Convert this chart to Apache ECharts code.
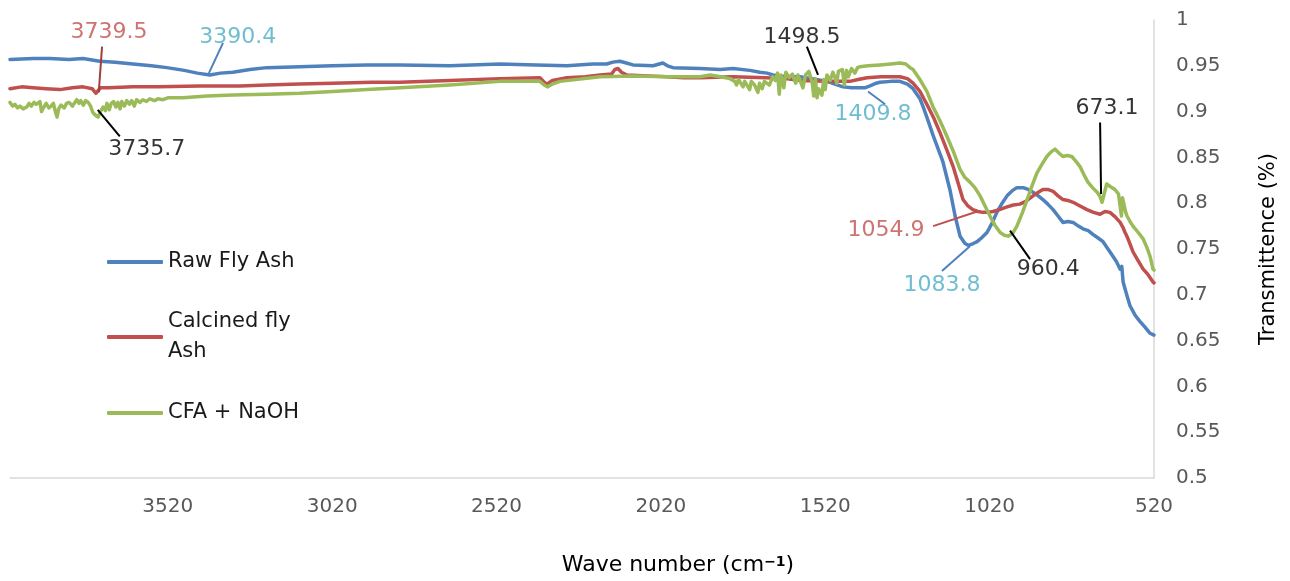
<!DOCTYPE html>
<html>
<head>
<meta charset="utf-8">
<script src="https://cdn.jsdelivr.net/npm/echarts@6/dist/echarts.min.js"></script>
<style>
  html, body { margin: 0; padding: 0; background: #fff; }
  #chart { width: 1290px; height: 581px; }
</style>
</head>
<body>
<div id="chart"></div>
<script>
// ---------- DATA ----------
const seriesNames = ['Raw Fly Ash', 'Calcined fly Ash', 'CFA + NaOH'];
const seriesColors = ['#4F81BD', '#C0504D', '#9BBB59'];

// Wave number (cm-1), transmittance
const rawFlyAsh = [
  [4000,0.957],[3930,0.958],[3879,0.958],[3820,0.957],[3778,0.958],[3727,0.955],[3680,0.954],
  [3626,0.952],[3570,0.950],[3523,0.948],[3470,0.945],[3430,0.942],[3392,0.940],[3360,0.942],
  [3322,0.943],[3270,0.946],[3219,0.948],[3118,0.949],[3020,0.950],[2914,0.951],[2814,0.951],
  [2662,0.950],[2510,0.952],[2400,0.951],[2306,0.950],[2227,0.952],[2185,0.952],[2166,0.954],
  [2145,0.955],[2125,0.953],[2105,0.951],[2044,0.950],[2025,0.952],[2014,0.953],[2000,0.950],
  [1983,0.948],[1901,0.947],[1840,0.946],[1801,0.947],[1749,0.945],[1719,0.943],[1697,0.942],
  [1679,0.940],[1637,0.938],[1597,0.938],[1560,0.936],[1515,0.933],[1466,0.927],[1440,0.926],
  [1414,0.926],[1400,0.926],[1384,0.928],[1365,0.931],[1354,0.932],[1320,0.933],[1293,0.933],
  [1270,0.930],[1253,0.925],[1232,0.914],[1223,0.906],[1211,0.894],[1192,0.874],[1162,0.845],
  [1141,0.815],[1125,0.786],[1110,0.764],[1095,0.756],[1084,0.754],[1070,0.756],[1058,0.758],
  [1045,0.762],[1028,0.768],[1013,0.778],[998,0.790],[982,0.800],[967,0.808],[950,0.814],
  [937,0.817],[918,0.817],[903,0.815],[888,0.812],[872,0.808],[858,0.804],[843,0.799],
  [827,0.793],[812,0.786],[797,0.779],[782,0.780],[766,0.779],[750,0.775],[736,0.772],
  [720,0.770],[706,0.766],[690,0.762],[675,0.758],[660,0.750],[645,0.742],[634,0.736],
  [623,0.728],[618,0.731],[614,0.714],[603,0.700],[593,0.688],[578,0.678],[563,0.671],
  [548,0.665],[532,0.658],[520,0.656]
];
const calcinedFlyAsh = [
  [4000,0.925],[3965,0.927],[3930,0.926],[3890,0.925],[3848,0.924],[3810,0.926],[3778,0.927],
  [3750,0.925],[3739,0.920],[3725,0.926],[3700,0.926],[3626,0.927],[3550,0.927],[3422,0.928],
  [3300,0.928],[3219,0.929],[3118,0.930],[3018,0.931],[2900,0.932],[2814,0.932],[2662,0.934],
  [2510,0.936],[2388,0.937],[2375,0.932],[2367,0.930],[2350,0.934],[2306,0.937],[2250,0.938],
  [2205,0.940],[2170,0.941],[2160,0.946],[2150,0.947],[2140,0.943],[2123,0.940],[2060,0.939],
  [2002,0.938],[1950,0.937],[1901,0.937],[1801,0.938],[1700,0.937],[1640,0.936],[1597,0.934],
  [1520,0.933],[1445,0.933],[1420,0.935],[1393,0.937],[1350,0.938],[1293,0.938],[1270,0.936],
  [1253,0.931],[1232,0.922],[1211,0.908],[1190,0.893],[1171,0.877],[1150,0.858],[1131,0.840],
  [1115,0.821],[1101,0.804],[1086,0.797],[1071,0.793],[1056,0.791],[1040,0.790],[1025,0.790],
  [1010,0.791],[990,0.793],[967,0.796],[948,0.798],[928,0.799],[910,0.802],[888,0.808],
  [872,0.812],[858,0.815],[843,0.815],[827,0.813],[812,0.808],[797,0.804],[782,0.803],
  [766,0.801],[745,0.797],[724,0.793],[704,0.790],[684,0.788],[669,0.791],[654,0.790],
  [638,0.785],[623,0.779],[615,0.774],[608,0.768],[600,0.762],[584,0.747],[568,0.737],
  [553,0.728],[538,0.722],[523,0.714],[520,0.713]
];
const cfaNaOH = [
  [4000,0.910],[3992,0.906],[3985,0.908],[3977,0.904],[3970,0.906],[3960,0.903],[3949,0.905],
  [3942,0.909],[3935,0.906],[3927,0.910],[3920,0.908],[3909,0.911],[3904,0.900],[3900,0.903],
  [3890,0.909],[3882,0.904],[3875,0.906],[3868,0.909],[3862,0.900],[3857,0.894],[3852,0.903],
  [3845,0.907],[3835,0.904],[3828,0.909],[3820,0.910],[3810,0.906],[3797,0.913],[3790,0.909],
  [3785,0.912],[3777,0.907],[3770,0.912],[3762,0.910],[3755,0.906],[3748,0.899],[3740,0.896],
  [3732,0.894],[3725,0.900],[3717,0.905],[3710,0.901],[3705,0.909],[3698,0.902],[3692,0.909],
  [3685,0.911],[3678,0.905],[3672,0.910],[3665,0.903],[3660,0.911],[3652,0.906],[3645,0.912],
  [3637,0.908],[3630,0.912],[3622,0.906],[3615,0.913],[3605,0.910],[3596,0.913],[3585,0.911],
  [3575,0.914],[3560,0.912],[3550,0.914],[3535,0.913],[3520,0.915],[3474,0.915],[3400,0.917],
  [3322,0.918],[3220,0.919],[3118,0.920],[3018,0.922],[2914,0.924],[2814,0.926],[2662,0.929],
  [2510,0.933],[2388,0.933],[2375,0.929],[2364,0.927],[2350,0.930],[2327,0.933],[2205,0.938],
  [2105,0.939],[2002,0.938],[1901,0.938],[1870,0.940],[1840,0.938],[1810,0.936],[1795,0.933],
  [1790,0.929],[1784,0.935],[1779,0.935],[1770,0.927],[1765,0.933],[1760,0.932],[1750,0.924],
  [1745,0.933],[1735,0.929],[1725,0.921],[1720,0.931],[1712,0.925],[1705,0.933],[1700,0.934],
  [1690,0.929],[1680,0.938],[1672,0.934],[1665,0.942],[1660,0.919],[1655,0.940],[1646,0.926],
  [1640,0.943],[1630,0.937],[1620,0.941],[1610,0.931],[1603,0.940],[1597,0.942],[1588,0.926],
  [1580,0.940],[1570,0.944],[1560,0.932],[1555,0.917],[1550,0.936],[1545,0.915],[1540,0.925],
  [1530,0.918],[1525,0.935],[1520,0.924],[1515,0.940],[1505,0.934],[1497,0.943],[1490,0.937],
  [1485,0.931],[1480,0.944],[1468,0.946],[1462,0.929],[1455,0.945],[1450,0.938],[1440,0.947],
  [1430,0.942],[1422,0.948],[1414,0.949],[1390,0.950],[1354,0.951],[1320,0.952],[1293,0.953],
  [1275,0.952],[1262,0.948],[1253,0.946],[1232,0.935],[1211,0.922],[1192,0.905],[1171,0.890],
  [1150,0.873],[1131,0.857],[1110,0.837],[1095,0.828],[1080,0.823],[1065,0.817],[1049,0.808],
  [1034,0.797],[1019,0.786],[1004,0.776],[988,0.768],[975,0.765],[964,0.764],[950,0.767],
  [937,0.775],[920,0.790],[906,0.804],[890,0.820],[876,0.833],[860,0.843],[846,0.851],
  [833,0.856],[821,0.859],[810,0.855],[797,0.851],[784,0.852],[770,0.851],[758,0.846],
  [745,0.840],[733,0.831],[721,0.823],[707,0.817],[693,0.812],[685,0.808],[678,0.801],
  [672,0.802],[664,0.821],[652,0.818],[639,0.815],[628,0.810],[623,0.808],[619,0.786],
  [616,0.806],[611,0.806],[606,0.790],[602,0.786],[593,0.780],[584,0.775],[568,0.768],
  [553,0.761],[542,0.752],[532,0.742],[523,0.728],[520,0.727]
];

const xTickLabels = [3520, 3020, 2520, 2020, 1520, 1020, 520];

// Peak annotations: text, text position [wave number, value], leader line from/to, colour
const annoTexts  = ['3739.5', '3390.4', '3735.7', '1498.5', '1409.8', '673.1', '1054.9', '1083.8', '960.4'];
const annoTextAt = [[3699,0.987],[3307,0.981],[3584,0.859],[1591,0.981],[1375,0.897],[663,0.904],[1335,0.770],[1165,0.710],[842,0.728]];
const annoFrom   = [[3720,0.971],[3352,0.975],[3733,0.902],[1576,0.971],[1390,0.922],[684,0.888],[1192,0.775],[1165,0.726],[958,0.770]];
const annoTo     = [[3730,0.921],[3395,0.942],[3666,0.873],[1542,0.940],[1338,0.908],[681,0.810],[1058,0.791],[1080,0.753],[897,0.739]];
const annoTextColors = ['#C0504D','#4BACC6','#000000','#000000','#4BACC6','#000000','#C0504D','#4BACC6','#000000'];
const annoLineColors = ['#A0403D','#4F81BD','#000000','#000000','#4F81BD','#000000','#C0504D','#4F81BD','#000000'];

// ---------- CHART ----------
const FONT = 'DejaVu Sans';
const chart = echarts.init(document.getElementById('chart'), null, { renderer: 'canvas' });
const seriesData = [rawFlyAsh, calcinedFlyAsh, cfaNaOH];

const lineSeries = seriesNames.map((n, i) => ({
  name: n,
  type: 'line',
  data: seriesData[i],
  showSymbol: false,
  symbol: 'none',
  smooth: false,
  lineStyle: { color: seriesColors[i], width: 3.5, join: 'round', cap: 'round' },
  itemStyle: { color: seriesColors[i] },
  z: 2 + i
}));

const legendPos = [
  { top: 249, textStyle: { lineHeight: 26 } },
  { top: 292, textStyle: { lineHeight: 30, padding: [30, 0, 0, 0] }, formatter: 'Calcined fly\nAsh' },
  { top: 400, textStyle: { lineHeight: 26 } }
];

const legends = seriesNames.map((n, i) => ({
  data: [n],
  left: 107,
  top: legendPos[i].top,
  padding: 0,
  icon: 'roundRect',
  itemWidth: 56,
  itemHeight: 4,
  formatter: legendPos[i].formatter || '{name}',
  textStyle: Object.assign({ fontFamily: FONT, fontSize: 21, color: '#1a1a1a' }, legendPos[i].textStyle)
}));

const option = {
  animation: false,
  backgroundColor: '#ffffff',
  grid: { left: 10, right: 136, top: 20, bottom: 101, containLabel: false },
  legend: legends,
  xAxis: {
    type: 'value',
    min: 520,
    max: 4000,
    interval: 500,
    inverse: true,
    name: '{a|Wave number (cm}{s|\u22121}{a|)}',
    nameLocation: 'middle',
    nameGap: 76,
    nameTextStyle: {
      padding: [0, 0, 0, 192],
      rich: {
        a: { fontFamily: FONT, fontSize: 22, color: '#000000' },
        s: { fontFamily: FONT, fontSize: 14, fontWeight: 'bold', color: '#000000', verticalAlign: 'top', padding: [1, 0, 0, 0] }
      }
    },
    axisLine: { show: true, lineStyle: { color: '#D9D9D9', width: 1.5 } },
    axisTick: { show: false },
    splitLine: { show: false },
    axisLabel: {
      margin: 19,
      fontFamily: FONT,
      fontSize: 20,
      color: '#595959',
      formatter: v => (xTickLabels.indexOf(v) >= 0 ? String(v) : '')
    }
  },
  yAxis: {
    type: 'value',
    position: 'right',
    min: 0.5,
    max: 1,
    interval: 0.05,
    name: 'Transmittence (%)',
    nameLocation: 'middle',
    nameGap: 104,
    nameTextStyle: { fontFamily: FONT, fontSize: 21, color: '#000000' },
    axisLine: { show: true, lineStyle: { color: '#D9D9D9', width: 1.5 } },
    axisTick: { show: false },
    splitLine: { show: false },
    axisLabel: {
      margin: 22,
      fontFamily: FONT,
      fontSize: 20,
      color: '#595959',
      formatter: v => String(Math.round(v * 100) / 100)
    }
  },
  series: lineSeries.concat([
    {
      name: 'peakLines',
      type: 'lines',
      coordinateSystem: 'cartesian2d',
      z: 10,
      silent: true,
      symbol: 'none',
      data: annoFrom.map((f, i) => ({
        coords: [f, annoTo[i]],
        lineStyle: { color: annoLineColors[i], width: 2, opacity: 1, curveness: 0 }
      }))
    },
    {
      name: 'peakLabels',
      type: 'scatter',
      z: 11,
      silent: true,
      symbolSize: 0,
      data: annoTextAt.map((p, i) => ({
        value: p,
        label: {
          show: true,
          position: 'inside',
          formatter: annoTexts[i],
          fontFamily: FONT,
          fontSize: 22,
          color: annoTextColors[i]
        }
      }))
    }
  ])
};

chart.setOption(option);
</script>
</body>
</html>
